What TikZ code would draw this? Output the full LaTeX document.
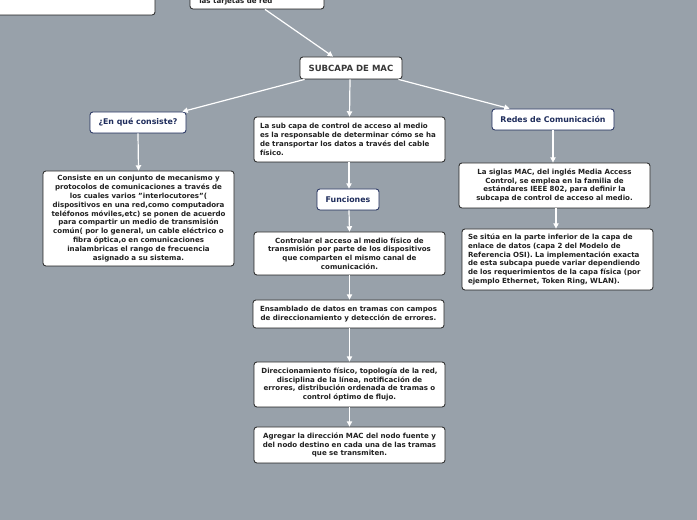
\documentclass[tikz,border=0pt]{standalone}
\usepackage{fontspec}
\setmainfont{DejaVu Sans}
\usetikzlibrary{calc,arrows.meta}
\definecolor{bg}{HTML}{98A1AA}
\definecolor{navy}{HTML}{1F2D5C}
\definecolor{ink}{HTML}{222222}
\tikzset{
  box/.style={draw=ink, fill=white, rounded corners=2.2pt, line width=0.6pt,
    inner xsep=4.5pt, inner ysep=0pt, align=center, text=ink,
    font=\bfseries\fontsize{5.3pt}{6.6pt}\selectfont},
  navybox/.style={box, draw=navy, text=navy, font=\bfseries\fontsize{5.9pt}{7pt}\selectfont},
  arr/.style={draw=white, line width=0.9pt, -{Triangle[length=4pt,width=4pt]}},
}
\begin{document}
\begin{tikzpicture}[x=0.75pt,y=-0.75pt]
\fill[bg] (0,0) rectangle (697,520);
\useasboundingbox (0,0) rectangle (697,520);
\begin{scope}
\clip (0,0) rectangle (697,520);
\node[box, minimum width=206*0.75pt, minimum height=46*0.75pt] (tl) at (52,-8) {};
\node[box, minimum width=134*0.75pt, minimum height=39*0.75pt] (tc) at (257,-10.5) {};
\node[anchor=base west, inner sep=0pt, text=ink, font=\bfseries\fontsize{5.3pt}{6.6pt}\selectfont] (tctext) at (199,4) {las tarjetas de red};
\end{scope}

\node[box, minimum width=102*0.75pt, minimum height=22*0.75pt, text=ink!90, font=\bfseries\fontsize{6.4pt}{7.5pt}\selectfont] (mac) at (351,68) {SUBCAPA DE MAC};

\node[navybox, minimum width=96*0.75pt, minimum height=21*0.75pt] (consq) at (138,122.5) {¿En qué consiste?};
\node[navybox, minimum width=122*0.75pt, minimum height=21*0.75pt] (redes) at (553,119.5) {Redes de Comunicación};
\node[navybox, minimum width=62*0.75pt, minimum height=21*0.75pt] (func) at (348,199.5) {Funciones};

\node[box, text width=179*0.75pt, minimum height=45*0.75pt, align=left] (lasub) at (349.5,139.5)
 {La sub capa de control de acceso al medio\\es la responsable de determinar cómo se ha\\de transportar los datos a través del cable\\físico.};

\node[box, text width=179*0.75pt, minimum height=95*0.75pt] (consiste) at (138.5,218.5)
 {Consiste en un conjunto de mecanismo y\\protocolos de comunicaciones a través de\\los cuales varios "interlocutores"(\\dispositivos en una red,como computadora\\teléfonos móviles,etc) se ponen de acuerdo\\para compartir un medio de transmisión\\común( por lo general, un cable eléctrico o\\fibra óptica,o en comunicaciones\\inalambricas el rango de frecuencia\\asignado a su sistema.};

\node[box, text width=179*0.75pt, minimum height=43*0.75pt] (ctrl) at (349.5,253.5)
 {Controlar el acceso al medio físico de\\transmisión por parte de los dispositivos\\que comparten el mismo canal de\\comunicación.};

\node[box, text width=179*0.75pt, minimum height=28*0.75pt] (ensam) at (348.5,314)
 {Ensamblado de datos en tramas con campos\\de direccionamiento y detección de errores.};

\node[box, text width=179*0.75pt, minimum height=45*0.75pt] (direc) at (349.5,384.5)
 {Direccionamiento físico, topología de la red,\\disciplina de la línea, notificación de\\errores, distribución ordenada de tramas o\\control óptimo de flujo.};

\node[box, text width=179*0.75pt, minimum height=36*0.75pt] (agreg) at (349.5,445)
 {Agregar la dirección MAC del nodo fuente y\\del nodo destino en cada una de las tramas\\que se transmiten.};

\node[box, text width=179*0.75pt, minimum height=45*0.75pt] (siglas) at (554.5,185.5)
 {La siglas MAC, del inglés Media Access\\Control, se emplea en la familia de\\estándares IEEE 802, para definir la\\subcapa de control de acceso al medio.};

\node[box, text width=179*0.75pt, minimum height=61*0.75pt, align=left] (situa) at (557.5,259.5)
 {Se sitúa en la parte inferior de la capa de\\enlace de datos (capa 2 del Modelo de\\Referencia OSI). La implementación exacta\\de esta subcapa puede variar dependiendo\\de los requerimientos de la capa física (por\\ejemplo Ethernet, Token Ring, WLAN).};

\draw[arr] ($(tc.south)+(8,0)$) -- ($(mac.north)+(-18,0)$);
\draw[arr] ($(mac.south west)+(5,0)$) -- ($(consq.north east)+(-4,0)$);
\draw[arr] ($(mac.south)+(-1,0)$) -- (lasub.north);
\draw[arr] ($(mac.south east)+(-4,0)$) -- ($(redes.north west)+(18,0)$);
\draw[arr] (consq.south) -- (consiste.north);
\draw[arr] ($(lasub.south)+(-0.5,0)$) -- ($(func.north)+(1,0)$);
\draw[arr] ($(func.south)+(1,0)$) -- (ctrl.north);
\draw[arr] (ctrl.south) -- ($(ensam.north)+(1,0)$);
\draw[arr] ($(ensam.south)+(1,0)$) -- (direc.north);
\draw[arr] (direc.south) -- (agreg.north);
\draw[arr] (redes.south) -- ($(siglas.north)+(-1.5,0)$);
\draw[arr] ($(siglas.south)+(1.5,0)$) -- ($(situa.north)+(-1.5,0)$);
\end{tikzpicture}
\end{document}
